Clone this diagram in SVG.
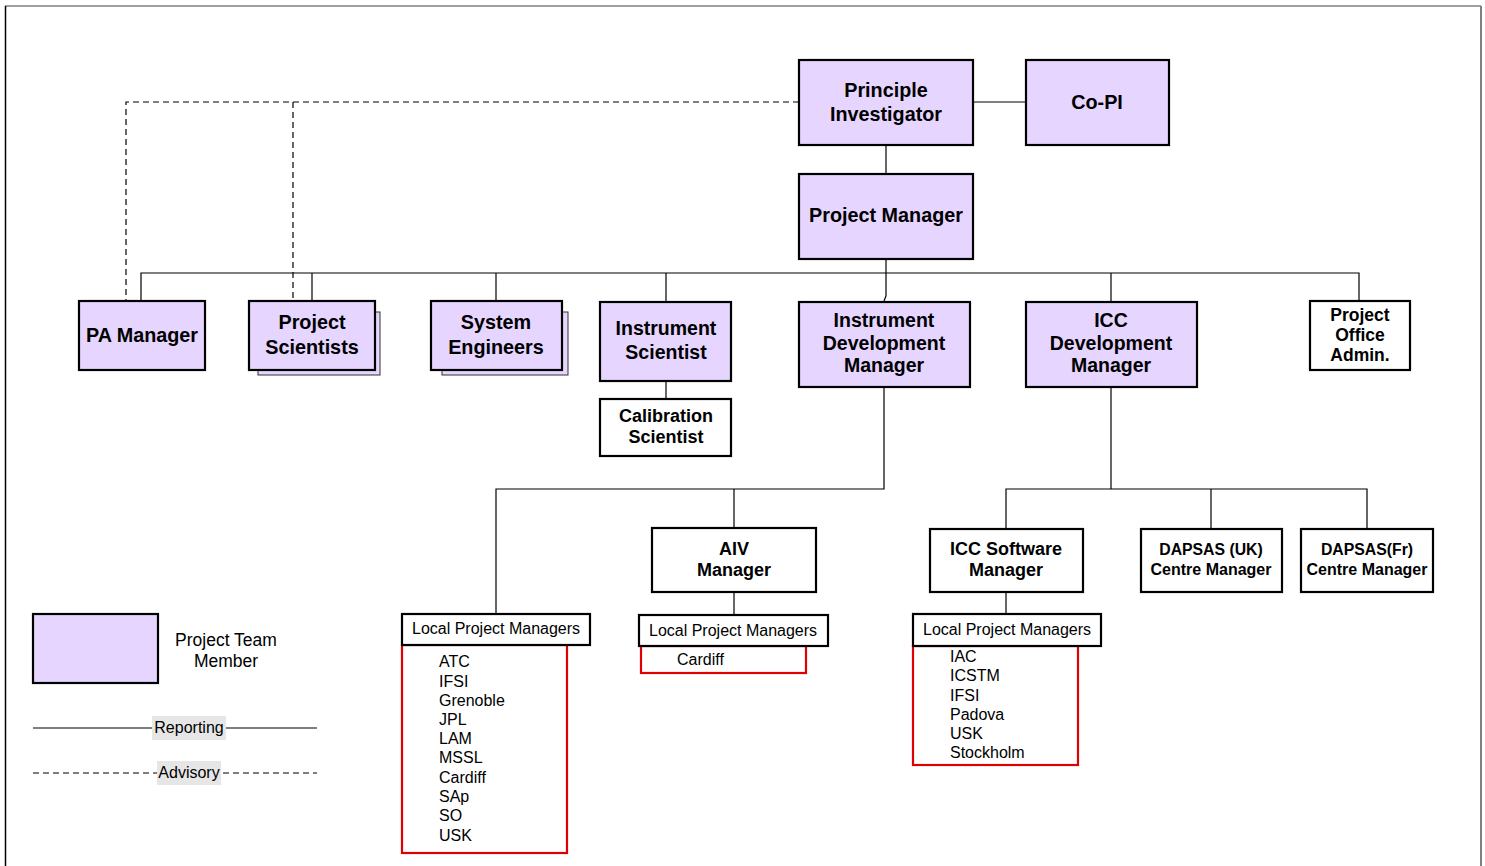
<svg xmlns="http://www.w3.org/2000/svg" width="1485" height="866" viewBox="0 0 1485 866">
<style>
  .box{fill:#E6D5FF;stroke:#000;stroke-width:2.2}
  .wbox{fill:#fff;stroke:#000;stroke-width:2.2}
  .shadow{fill:#E6D5FF;stroke:#333;stroke-width:1}
  .red{fill:#fff;stroke:#E00000;stroke-width:2.2}
  .b{font-family:"Liberation Sans",Arial,sans-serif;font-weight:bold;fill:#000;text-anchor:middle}
  .r{font-family:"Liberation Sans",Arial,sans-serif;fill:#000}
  .ln{stroke:#000;stroke-width:1.2;fill:none}
  .dash{stroke:#000;stroke-width:1.2;fill:none;stroke-dasharray:6 4}
</style>
<rect x="0" y="0" width="1485" height="866" fill="#fff"/>
<g id="frame">
  <line x1="5" y1="6" x2="1481" y2="6" stroke="#808080" stroke-width="1.5"/>
  <line x1="5.5" y1="6" x2="5.5" y2="866" stroke="#000" stroke-width="1.5"/>
  <line x1="1481" y1="6" x2="1481" y2="866" stroke="#808080" stroke-width="2"/>
</g>
<g id="connectors">
  <path class="dash" d="M799,102 H126 V300"/>
  <path class="dash" d="M293,102 V300"/>
  <path class="ln" d="M973,102 H1026"/>
  <path class="ln" d="M886,145 V174"/>
  <path class="ln" d="M886,259 V273"/>
  <path class="ln" d="M141,300 V273 H1359 V300"/>
  <path class="ln" d="M312,273 V300"/>
  <path class="ln" d="M496,273 V300"/>
  <path class="ln" d="M666,273 V301"/>
  <path class="ln" d="M886,273 V296 L884,301"/>
  <path class="ln" d="M1111,273 V301"/>
  <path class="ln" d="M666,381 V399"/>
  <path class="ln" d="M884,387 V489 H496 V614"/>
  <path class="ln" d="M734,489 V528"/>
  <path class="ln" d="M734,592 V615"/>
  <path class="ln" d="M1111,387 V489"/>
  <path class="ln" d="M1006,529 V489 H1367 V529"/>
  <path class="ln" d="M1211,489 V529"/>
  <path class="ln" d="M1006,592 V614"/>
</g>
<g id="pi">
  <rect class="box" x="799" y="60" width="174" height="85"/>
  <text class="b" font-size="19.8" x="886" y="97">Principle</text>
  <text class="b" font-size="19.8" x="886" y="121">Investigator</text>
</g>
<g id="copi">
  <rect class="box" x="1026" y="60" width="143" height="85"/>
  <text class="b" font-size="19.8" x="1097" y="109">Co-PI</text>
</g>
<g id="pm">
  <rect class="box" x="799" y="174" width="174" height="85"/>
  <text class="b" font-size="19.8" x="886" y="222">Project Manager</text>
</g>
<g id="pa">
  <rect class="box" x="79" y="301" width="126" height="69"/>
  <text class="b" font-size="19.8" x="142" y="342">PA Manager</text>
</g>
<g id="projsci">
  <rect class="shadow" x="258" y="312" width="122" height="63"/>
  <rect class="box" x="249" y="301" width="126" height="69"/>
  <text class="b" font-size="19.8" x="312" y="329">Project</text>
  <text class="b" font-size="19.8" x="312" y="354">Scientists</text>
</g>
<g id="syseng">
  <rect class="shadow" x="442" y="312" width="126" height="63"/>
  <rect class="box" x="431" y="301" width="131" height="69"/>
  <text class="b" font-size="19.8" x="496" y="329">System</text>
  <text class="b" font-size="19.8" x="496" y="354">Engineers</text>
</g>
<g id="instsci">
  <rect class="box" x="600" y="302" width="131" height="79"/>
  <text class="b" font-size="19.5" x="666" y="335">Instrument</text>
  <text class="b" font-size="19.5" x="666" y="359">Scientist</text>
</g>
<g id="calsci">
  <rect class="wbox" x="600" y="399" width="131" height="57"/>
  <text class="b" font-size="18" x="666" y="422">Calibration</text>
  <text class="b" font-size="18" x="666" y="443">Scientist</text>
</g>
<g id="idm">
  <rect class="box" x="799" y="302" width="171" height="85"/>
  <text class="b" font-size="19.5" x="884" y="327">Instrument</text>
  <text class="b" font-size="19.5" x="884" y="350">Development</text>
  <text class="b" font-size="19.5" x="884" y="372">Manager</text>
</g>
<g id="iccdm">
  <rect class="box" x="1026" y="302" width="171" height="85"/>
  <text class="b" font-size="19.5" x="1111" y="327">ICC</text>
  <text class="b" font-size="19.5" x="1111" y="350">Development</text>
  <text class="b" font-size="19.5" x="1111" y="372">Manager</text>
</g>
<g id="poa">
  <rect class="wbox" x="1310" y="301" width="100" height="69"/>
  <text class="b" font-size="17.5" x="1360" y="321">Project</text>
  <text class="b" font-size="17.5" x="1360" y="341">Office</text>
  <text class="b" font-size="17.5" x="1360" y="361">Admin.</text>
</g>
<g id="aiv">
  <rect class="wbox" x="652" y="528" width="164" height="64"/>
  <text class="b" font-size="18" x="734" y="555">AIV</text>
  <text class="b" font-size="18" x="734" y="576">Manager</text>
</g>
<g id="iccsw">
  <rect class="wbox" x="930" y="529" width="153" height="63"/>
  <text class="b" font-size="18" x="1006" y="555">ICC Software</text>
  <text class="b" font-size="18" x="1006" y="576">Manager</text>
</g>
<g id="dapsasuk">
  <rect class="wbox" x="1141" y="529" width="141" height="63"/>
  <text class="b" font-size="15.8" x="1211" y="555">DAPSAS (UK)</text>
  <text class="b" font-size="16" x="1211" y="575">Centre Manager</text>
</g>
<g id="dapsasfr">
  <rect class="wbox" x="1301" y="529" width="132" height="63"/>
  <text class="b" font-size="15.8" x="1367" y="555">DAPSAS(Fr)</text>
  <text class="b" font-size="16" x="1367" y="575">Centre Manager</text>
</g>
<g id="lpm1">
  <rect class="red" x="402" y="645" width="165" height="208"/>
  <rect class="wbox" x="402" y="614" width="188" height="31"/>
  <text class="r" font-size="16" x="412" y="634">Local Project Managers</text>
  <text class="r" font-size="16" x="439" y="667">ATC</text>
  <text class="r" font-size="16" x="439" y="687">IFSI</text>
  <text class="r" font-size="16" x="439" y="706">Grenoble</text>
  <text class="r" font-size="16" x="439" y="725">JPL</text>
  <text class="r" font-size="16" x="439" y="744">LAM</text>
  <text class="r" font-size="16" x="439" y="763">MSSL</text>
  <text class="r" font-size="16" x="439" y="783">Cardiff</text>
  <text class="r" font-size="16" x="439" y="802">SAp</text>
  <text class="r" font-size="16" x="439" y="821">SO</text>
  <text class="r" font-size="16" x="439" y="841">USK</text>
</g>
<g id="lpm2">
  <rect class="red" x="641" y="646" width="165" height="27"/>
  <rect class="wbox" x="639" y="615" width="189" height="31"/>
  <text class="r" font-size="16" x="649" y="636">Local Project Managers</text>
  <text class="r" font-size="16" x="677" y="665">Cardiff</text>
</g>
<g id="lpm3">
  <rect class="red" x="913" y="646" width="165" height="119"/>
  <rect class="wbox" x="913" y="614" width="188" height="32"/>
  <text class="r" font-size="16" x="923" y="635">Local Project Managers</text>
  <text class="r" font-size="16" x="950" y="662">IAC</text>
  <text class="r" font-size="16" x="950" y="681">ICSTM</text>
  <text class="r" font-size="16" x="950" y="701">IFSI</text>
  <text class="r" font-size="16" x="950" y="720">Padova</text>
  <text class="r" font-size="16" x="950" y="739">USK</text>
  <text class="r" font-size="16" x="950" y="758">Stockholm</text>
</g>
<g id="legend">
  <rect class="box" x="33" y="614" width="125" height="69"/>
  <text class="r" font-size="17.5" x="226" y="646" text-anchor="middle">Project Team</text>
  <text class="r" font-size="17.5" x="226" y="667" text-anchor="middle">Member</text>
  <line class="ln" x1="33" y1="728" x2="317" y2="728" stroke-width="1"/>
  <rect x="152" y="716" width="74" height="24" fill="#E6E6E6"/>
  <text class="r" font-size="16" x="189" y="733" text-anchor="middle">Reporting</text>
  <line class="dash" x1="33" y1="773" x2="317" y2="773" stroke-width="1"/>
  <rect x="157" y="761" width="64" height="24" fill="#E6E6E6"/>
  <text class="r" font-size="16" x="189" y="778" text-anchor="middle">Advisory</text>
</g>
</svg>
